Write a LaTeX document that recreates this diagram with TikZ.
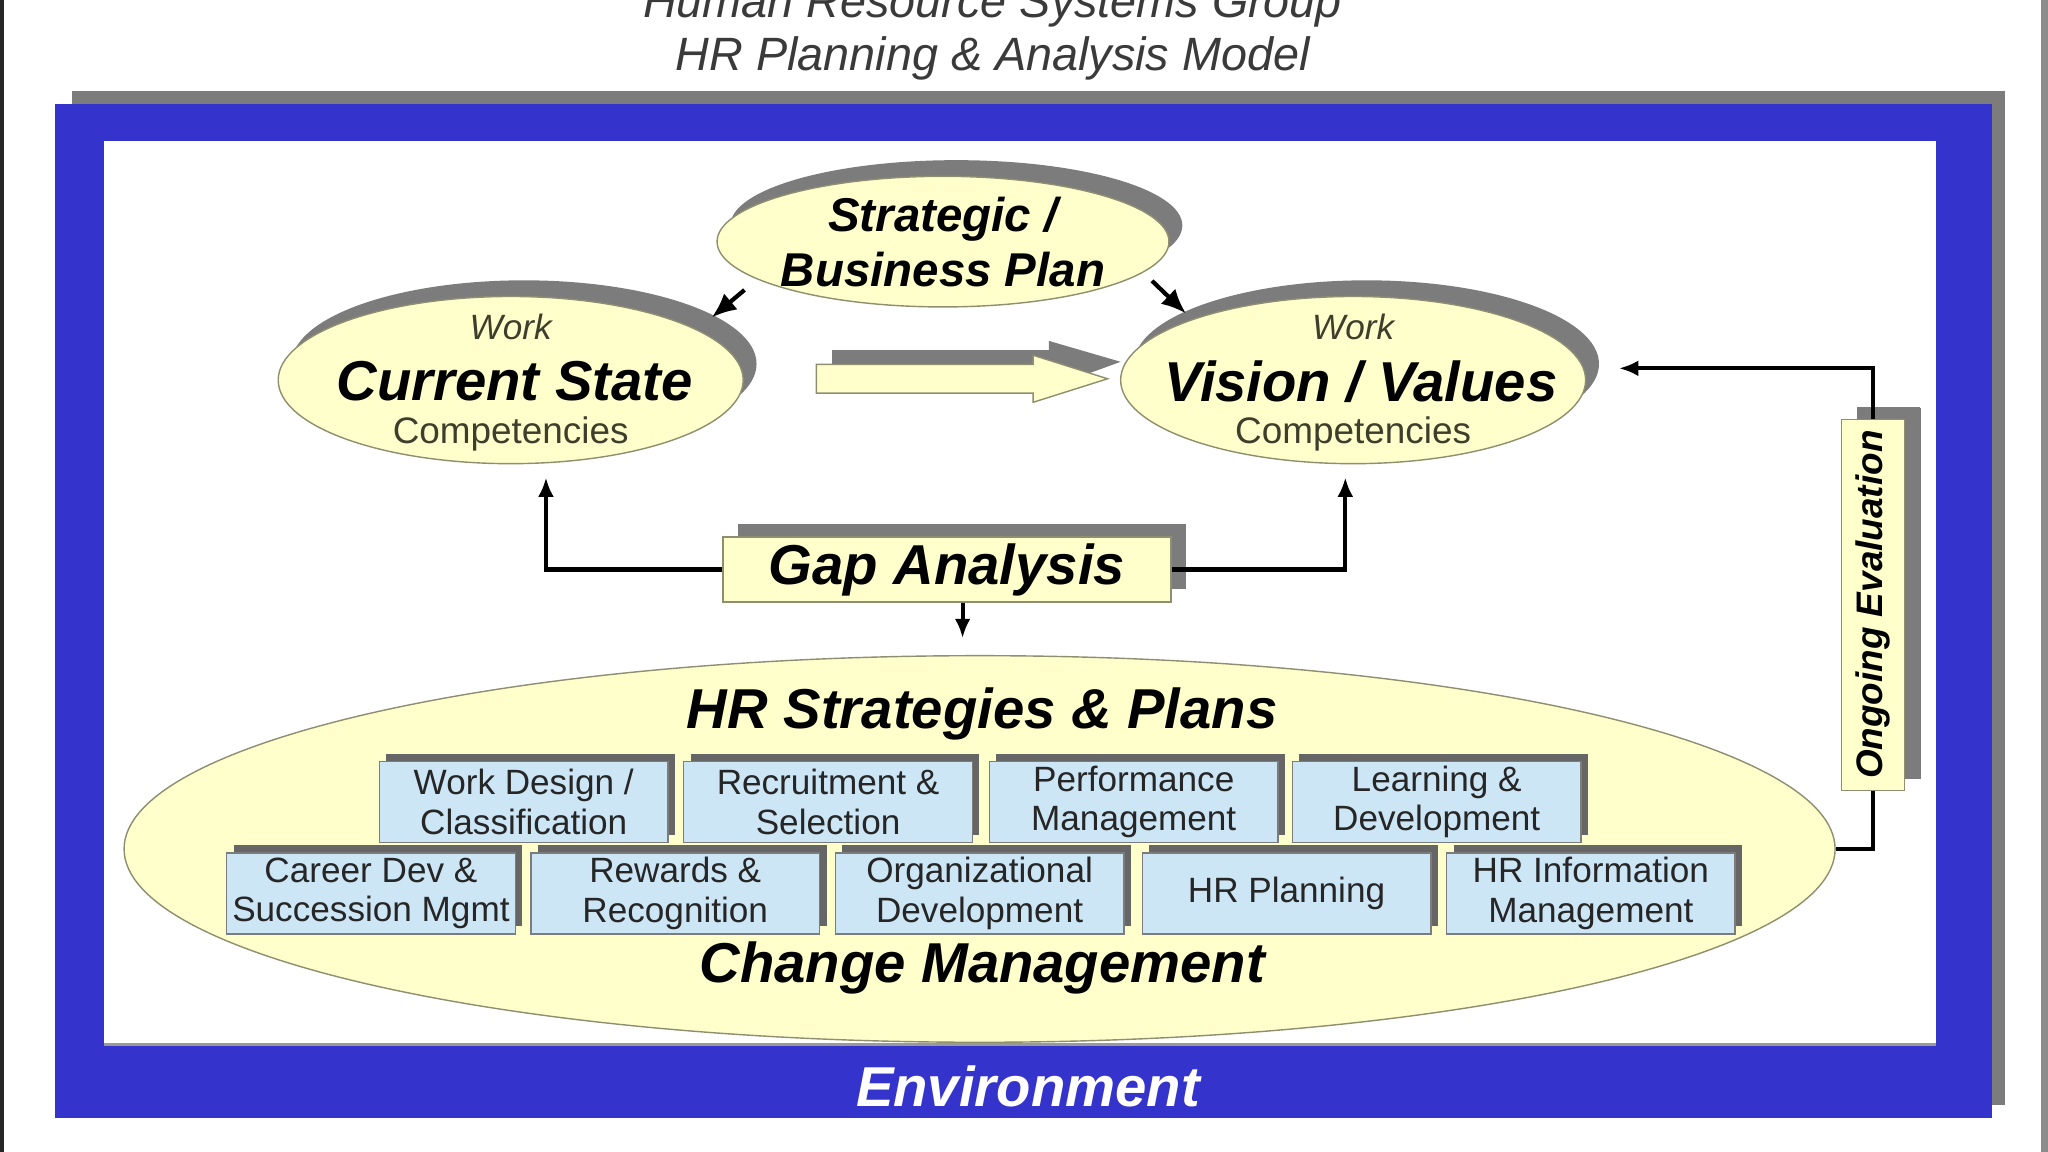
\documentclass[tikz,border=0pt]{standalone}
\usepackage{fontspec}
\setmainfont{Liberation Sans}
\usetikzlibrary{positioning,arrows.meta,calc,shapes.geometric,shadows}

\definecolor{envblue}{HTML}{3434CC}
\definecolor{paleyellow}{HTML}{FFFFCC}
\definecolor{paleblue}{HTML}{CDE6F6}
\definecolor{shadowgrey}{HTML}{7C7C7C}
\definecolor{edgegrey}{HTML}{8E8E70}
\definecolor{titlegrey}{HTML}{3A3A3A}
\definecolor{olivetext}{HTML}{3E3E2C}

% one unit = one pixel of the 1568 x 882 layout
\newcommand{\pu}{0.013061cm}

\tikzset{
  bubble/.style={ellipse, draw=edgegrey, fill=paleyellow, inner sep=0pt,
    drop shadow={shadow xshift=3.8pt, shadow yshift=4.6pt, fill=shadowgrey, opacity=1}},
  tag/.style={rectangle, draw=edgegrey, fill=paleyellow, inner sep=0pt,
    drop shadow={shadow xshift=4.4pt, shadow yshift=3.6pt, fill=shadowgrey, opacity=1}},
  hrbox/.style={rectangle, draw=shadowgrey, fill=paleblue, inner sep=0pt, align=center,
    minimum width=221*\pu, minimum height=62*\pu,
    font=\fontsize{10}{11.2}\selectfont, text=black!85,
    drop shadow={shadow xshift=2pt, shadow yshift=2.2pt, fill=black!60, opacity=1}},
  bigtext/.style={font=\fontsize{16}{19}\selectfont\bfseries\itshape, inner sep=0pt},
  smalltext/.style={font=\fontsize{10.5}{12}\selectfont, text=olivetext, inner sep=0pt},
  arr/.style={-{Latex[length=5.5pt,width=4.5pt]}, line width=1.2pt},
  link/.style={line width=1.2pt},
}

\begin{document}
\begin{tikzpicture}[x=\pu, y=-\pu]
\clip (0,0) rectangle (1568,882);
\fill[white] (0,0) rectangle (1568,882);
% page edges
\fill[black!85] (0,0) rectangle (3,882);
\fill[black!45] (1563,0) rectangle (1568,882);

% title
\node[font=\fontsize{13.3}{15}\selectfont\itshape, text=titlegrey] (title1) at (760,5) {Human Resource Systems Group};
\node[font=\fontsize{13.3}{15}\selectfont\itshape, text=titlegrey] (title2) at (760,45) {HR Planning \& Analysis Model};

% environment frame
\fill[shadowgrey] (55,70) rectangle (1535,846);
\fill[envblue] (42,80) rectangle (1525,856);
\fill[white] (80,108) rectangle (1482,800);
\draw[black!40, line width=0.8pt] (80,800) -- (1482,800);
\node[font=\fontsize{16}{19}\selectfont\bfseries\itshape, text=white] (env) at (787,832) {Environment};

% strategic plan
\node[bubble, minimum width=346*\pu, minimum height=100*\pu] (strat) at (722,185) {};
\node[font=\fontsize{13.5}{15.6}\selectfont\bfseries\itshape, align=center] (strat-t) at (strat) {Strategic /\\Business Plan};

% current state and vision
\node[bubble, minimum width=356*\pu, minimum height=128*\pu] (cur) at (391,291) {};
\node[bubble, minimum width=356*\pu, minimum height=128*\pu] (vis) at (1036,291) {};
\node[smalltext, font=\fontsize{10}{12}\selectfont\itshape] (cur-w) at ($(cur)+(0,-41)$) {Work};
\node[bigtext] (cur-t) at ($(cur)+(3,1)$) {Current State};
\node[smalltext] (cur-c) at ($(cur)+(0,41)$) {Competencies};
\node[smalltext, font=\fontsize{10}{12}\selectfont\itshape] (vis-w) at ($(vis)+(0,-41)$) {Work};
\node[bigtext] (vis-t) at ($(vis)+(6,1)$) {Vision / Values};
\node[smalltext] (vis-c) at ($(vis)+(0,41)$) {Competencies};

\draw[arr, -{Latex[length=7pt,width=6pt]}] ($(strat.center)+(-152,37)$) -- ($(cur.center)+(154,-48)$);
\draw[arr, -{Latex[length=7pt,width=6pt]}] ($(strat.center)+(160,30)$) -- ($(vis.center)+(-128,-51)$);

% block arrow from current state to vision
\fill[shadowgrey] (637,268) -- (803,268) -- (803,261) -- (858,277) -- (803,297) -- (803,290) -- (637,290) -- cycle;
\filldraw[fill=paleyellow, draw=edgegrey] (625,279) -- (791,279) -- (791,272) -- (848,290) -- (791,308) -- (791,301) -- (625,301) -- cycle;

% gap analysis
\node[tag, minimum width=343*\pu, minimum height=50*\pu] (gap) at (725,436) {};
\node[bigtext] (gap-t) at (gap) {Gap Analysis};
\draw[arr] (gap.west) -| ($(cur.south)+(27,10)$);
\draw[arr] (gap.east) -| ($(vis.south)+(-6,10)$);
\draw[arr] ($(gap.south)+(12,0)$) -- ($(gap.south)+(12,27)$);

% hr strategies
\node[ellipse, draw=edgegrey, fill=paleyellow, minimum width=1310*\pu, minimum height=296*\pu] (hrs) at (750,650) {};
\node[bigtext] (hrs-t) at ($(hrs)+(2,-103)$) {HR Strategies \& Plans};
\node[bigtext] (hrs-c) at ($(hrs)+(2,91)$) {Change Management};

% first row of boxes
\foreach \name/\x/\txt in {wd/401/{Work Design /\\Classification}, rs/634/{Recruitment \&\\Selection},
    pm/868/{Performance\\Management}, ld/1100/{Learning \&\\Development}}
  \node[hrbox] (\name) at (\x,614) {\txt};
% second row of boxes
\foreach \name/\x/\txt in {cd/284/{Career Dev \&\\Succession Mgmt}, rr/517/{Rewards \&\\Recognition},
    od/750/{Organizational\\Development}, hp/985/{HR Planning}, him/1218/{HR Information\\Management}}
  \node[hrbox] (\name) at (\x,684) {\txt};

% ongoing evaluation
\node[tag, rotate=90, minimum width=284*\pu, minimum height=48*\pu,
  drop shadow={shadow xshift=4.8pt, shadow yshift=3.3pt, fill=shadowgrey, opacity=1}] (eval) at (1434,463) {};
\node[font=\fontsize{10.5}{12}\selectfont\bfseries\itshape, rotate=90, inner sep=0pt] (eval-t) at (eval) {Ongoing Evaluation};
\draw[link] (hrs.east) -| (eval.west);
\draw[arr] (eval.east) |- ($(vis.east)+(25,-9)$);

\end{tikzpicture}
\end{document}
